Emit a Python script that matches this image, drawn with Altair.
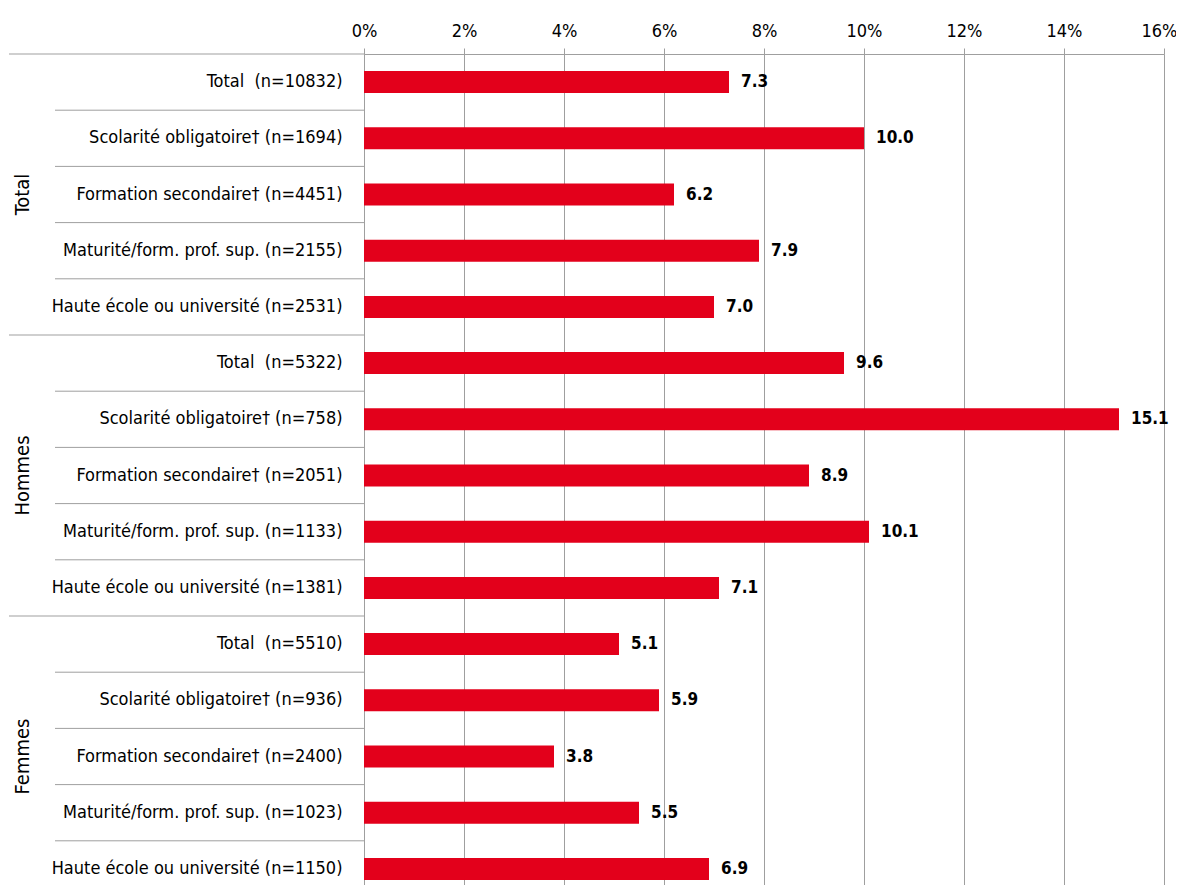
import altair as alt
import pandas as pd

groups = ["Total", "Hommes", "Femmes"]
categories = [
    "Total\u00a0\u00a0(n={})",
    "Scolarité obligatoire† (n={})",
    "Formation secondaire† (n={})",
    "Maturité/form. prof. sup. (n={})",
    "Haute école ou université (n={})",
]
counts = [
    [10832, 1694, 4451, 2155, 2531],
    [5322, 758, 2051, 1133, 1381],
    [5510, 936, 2400, 1023, 1150],
]
values = [
    [7.3, 10.0, 6.2, 7.9, 7.0],
    [9.6, 15.1, 8.9, 10.1, 7.1],
    [5.1, 5.9, 3.8, 5.5, 6.9],
]
tick_values = [0, 2, 4, 6, 8, 10, 12, 14, 16]

FONT = "Liberation Sans Narrow, Arial Narrow, DejaVu Sans Condensed, sans-serif"
RED = "#E3001B"
GRAY = "#9f9f9f"

rows = []
for gi, g in enumerate(groups):
    for ci, c in enumerate(categories):
        rows.append({
            "group": g,
            "label": c.format(counts[gi][ci]),
            "value": values[gi][ci],
            "first": ci == 0,
            "middle": ci == 2,
        })
df = pd.DataFrame(rows)
order = list(df["label"])

# 15 rows of ~56.2 px; the last row runs past the bottom edge, as in the reference
yscale = alt.Scale(domain=order, range=[0, 843], paddingInner=0, paddingOuter=0)
base = alt.Chart(df)

bars = base.mark_bar(size=22, color=RED).encode(
    x=alt.X("value:Q",
            scale=alt.Scale(domain=[0, 16], nice=False),
            axis=alt.Axis(orient="top", values=tick_values,
                          labelExpr="datum.value + '%'",
                          title=None, grid=True, gridColor=GRAY,
                          tickColor=GRAY, tickSize=6, domainColor=GRAY,
                          labelFlush=False, labelOverlap=False,
                          labelOffset={"condition": {"test": "datum.value == 16", "value": -5}, "value": 0},
                          labelPadding=8, labelFontSize=18, labelFont=FONT,
                          labelColor="#000000")),
    y=alt.Y("label:N", scale=yscale, sort=None,
            axis=alt.Axis(title=None, ticks=False, domainColor=GRAY,
                          labelPadding=22, labelFontSize=18, labelFont=FONT,
                          labelLimit=400,
                          labelColor="#000000", labelAlign="right")),
)

texts = base.mark_text(align="left", baseline="middle", dx=12,
                       fontSize=17, fontWeight="bold", font=FONT,
                       color="#000000").encode(
    x="value:Q",
    y=alt.Y("label:N", scale=yscale, sort=None),
    text=alt.Text("value:Q", format=".1f"),
)

row_rules = base.transform_filter("!datum.first").mark_rule(color=GRAY, strokeWidth=1).encode(
    x=alt.value(-309), x2=alt.value(0),
    y=alt.Y("label:N", scale=yscale, sort=None, bandPosition=0),
)

group_rules = base.transform_filter("datum.first").mark_rule(color=GRAY, strokeWidth=1).encode(
    x=alt.value(-355), x2=alt.value(0),
    y=alt.Y("label:N", scale=yscale, sort=None, bandPosition=0),
)

group_labels = base.transform_filter("datum.middle").mark_text(
    angle=270, align="center", baseline="middle", fontSize=20, font=FONT,
    color="#000000").encode(
    x=alt.value(-341),
    y=alt.Y("label:N", scale=yscale, sort=None),
    text="group:N",
)

chart = alt.layer(bars, texts, row_rules, group_rules, group_labels).properties(
    width=800, height=831,
    autosize=alt.AutoSizeParams(type="none"),
    padding={"left": 356, "top": 46, "right": 12, "bottom": 0},
).configure_view(stroke=None).configure_axis(domainWidth=1)

chart.save("out.html", embed_options={"renderer": "svg", "actions": False})
